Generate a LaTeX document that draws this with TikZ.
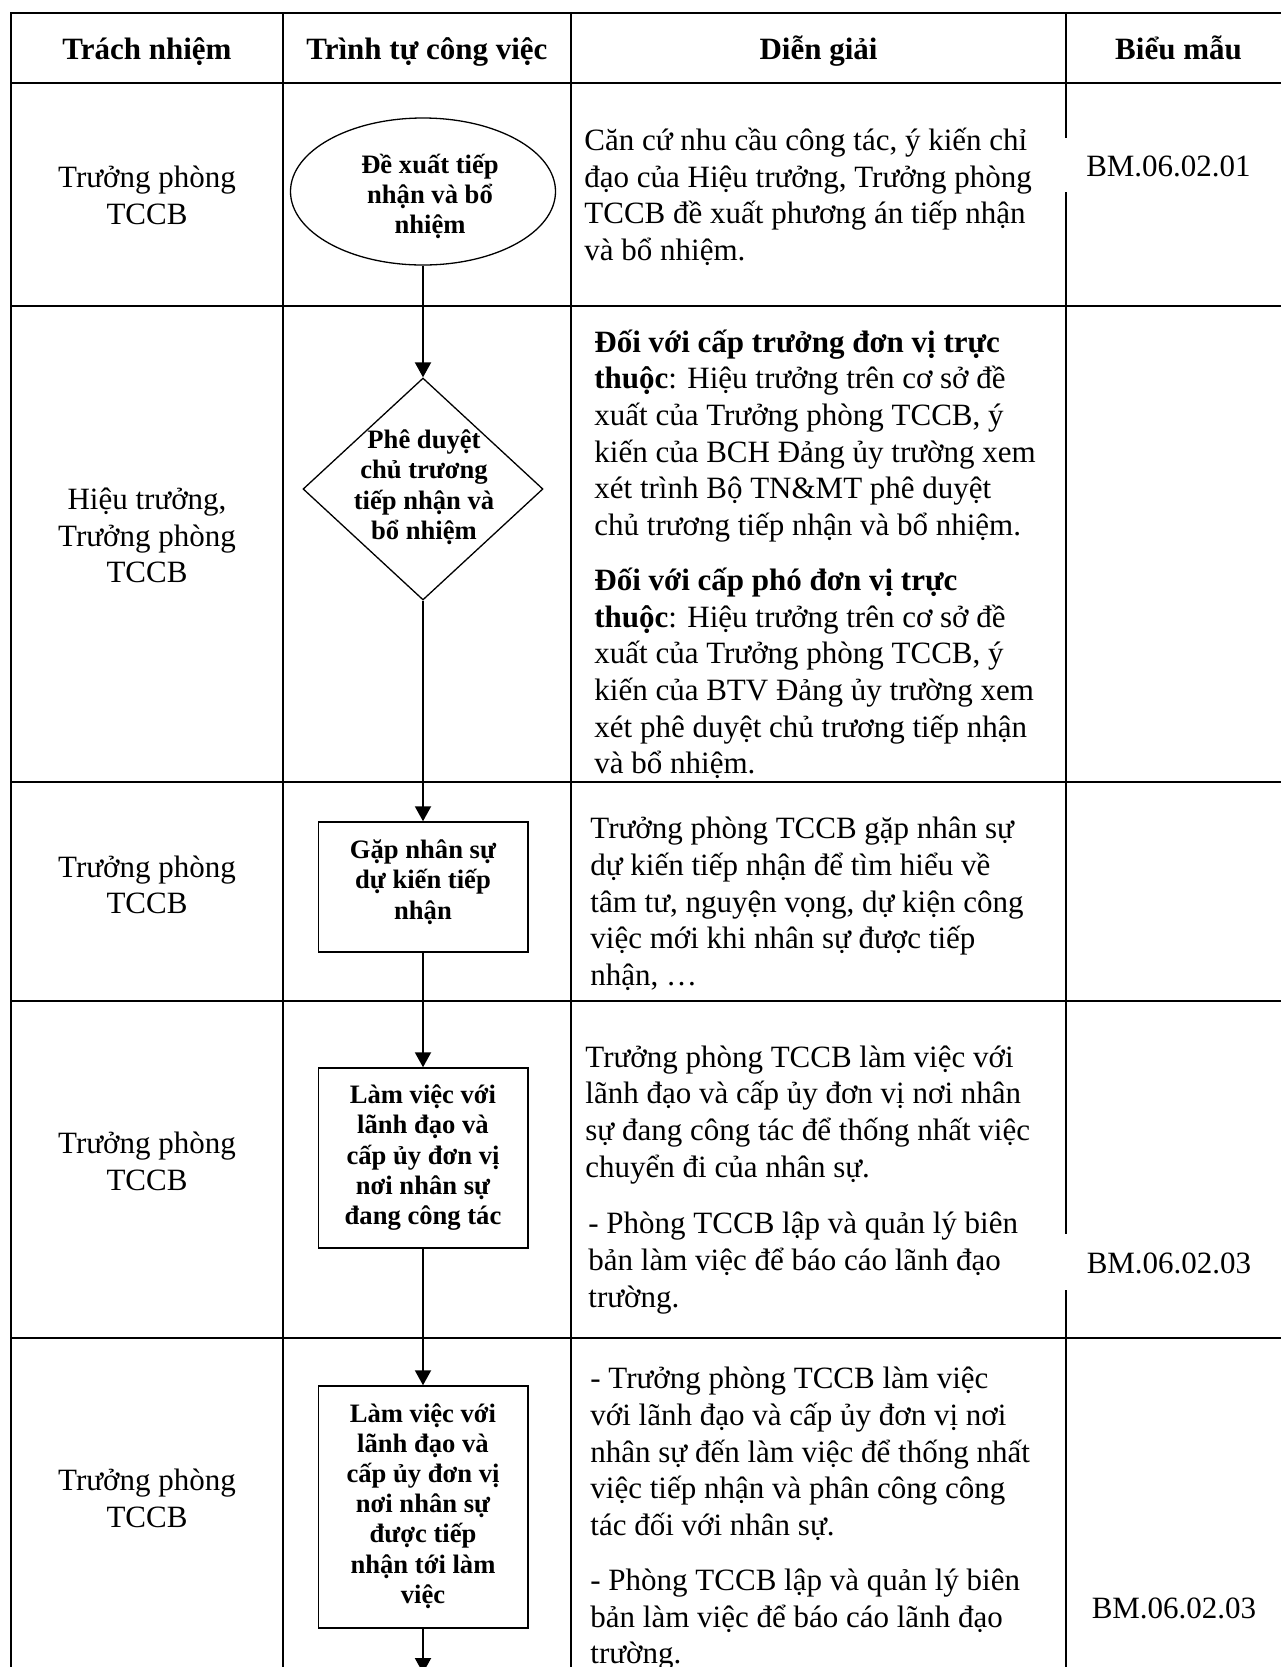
\documentclass[tikz,border=0pt]{standalone}
\usepackage{fontspec}
\setmainfont{Liberation Serif}
\usetikzlibrary{shapes.geometric,arrows.meta}

% text sizes: body 15.5pt, flow-chart labels 13.3pt bold
\newcommand\bodyfont{\fontsize{15.5pt}{18.35pt}\selectfont\lineskiplimit=-30pt}
\newcommand\flowfont{\fontsize{13.3pt}{15.1pt}\selectfont\bfseries\lineskiplimit=-30pt}
% fixed-height strut so that the top of every text block sits 16pt above its first baseline
\newcommand\tallstrut{\rule{0pt}{16pt}}

\begin{document}
\begin{tikzpicture}[x=0.5pt,y=-0.5pt,
  rule/.style={line width=1pt,line cap=rect},
  flow/.style={line width=1pt,-{Triangle[length=7.5pt,width=8pt]}},
  head/.style={font=\bodyfont\bfseries,inner sep=0pt,anchor=base},
  who/.style={font=\bodyfont,inner sep=0pt,align=center,anchor=north},
  note/.style={font=\bodyfont,inner sep=0pt,align=left,anchor=north west},
  form/.style={font=\bodyfont,inner sep=0pt,anchor=base},
  flowtext/.style={font=\flowfont,inner sep=0pt,align=center,anchor=north},
  startnode/.style={draw,ellipse,line width=0.65pt,inner sep=0pt,minimum width=132.5pt,minimum height=73.5pt},
  decision/.style={draw,diamond,line width=0.65pt,inner sep=0pt,minimum width=120pt,minimum height=111pt},
  process/.style={draw,rectangle,line width=0.75pt,inner sep=0pt,minimum width=104.75pt}]

\useasboundingbox (0,0) rectangle (1281,1667);
\clip (0,0) rectangle (1281,1667);

% ---- table rules ----
\foreach \y in {12.7,83,306,781.7,1000.7,1338}
  \draw[rule] (11,\y) -- (1300,\y);
\draw[rule] (11,12.7) -- (11,1700);
\draw[rule] (283.3,12.7) -- (283.3,1700);
\draw[rule] (570.7,12.7) -- (570.7,1700);
\draw[rule] (1065.7,12.7) -- (1065.7,136.7)
            (1065.7,193.3) -- (1065.7,1233)
            (1065.7,1291) -- (1065.7,1700);

% ---- header ----
\node[head] (h1) at (147,59) {Trách nhiệm};
\node[head] (h2) at (427,59) {Trình tự công việc};
\node[head] (h3) at (818.5,59) {Diễn giải};
\node[head] (h4) at (1178.5,59) {Biểu mẫu};

% ---- responsibility column ----
\node[who] (r1) at (147,155) {\tallstrut Trưởng phòng\\TCCB};
\node[who] (r2) at (147,477) {\tallstrut Hiệu trưởng,\\Trưởng phòng\\TCCB};
\node[who] (r3) at (147,844.7) {\tallstrut Trưởng phòng\\TCCB};
\node[who] (r4) at (147,1121.3) {\tallstrut Trưởng phòng\\TCCB};
\node[who] (r5) at (147,1458) {\tallstrut Trưởng phòng\\TCCB};

% ---- flow chart ----
\node[startnode] (e1) at (423,191.5) {};
\node[decision] (d1) at (423,489) {};
\node[process,minimum height=65pt] (b1) at (423,887) {};
\node[process,minimum height=90pt] (b2) at (423,1158) {};
\node[process,minimum height=121pt] (b3) at (423,1507) {};
\coordinate (out) at (423,1673);

\node[flowtext] (e1t) at (430,140.7) {\tallstrut Đề xuất tiếp\\nhận và bổ\\nhiệm};
\node[flowtext] (d1t) at (424,416.3) {\tallstrut Phê duyệt\\chủ trương\\tiếp nhận và\\bổ nhiệm};
\node[flowtext] (b1t) at (423,826.3) {\tallstrut Gặp nhân sự\\dự kiến tiếp\\nhận};
\node[flowtext] (b2t) at (423,1071.3) {\tallstrut Làm việc với\\lãnh đạo và\\cấp ủy đơn vị\\nơi nhân sự\\đang công tác};
\node[flowtext] (b3t) at (423,1389.7) {\tallstrut Làm việc với\\lãnh đạo và\\cấp ủy đơn vị\\nơi nhân sự\\được tiếp\\nhận tới làm\\việc};

\draw[flow] (e1) -- (d1);
\draw[flow] (d1) -- (b1);
\draw[flow] (b1) -- (b2);
\draw[flow] (b2) -- (b3);
\draw[flow] (b3) -- (out);

% ---- explanation column ----
\node[note] (n1) at (584,118) {\tallstrut Căn cứ nhu cầu công tác, ý kiến chỉ\\đạo của Hiệu trưởng, Trưởng phòng\\TCCB đề xuất phương án tiếp nhận\\và bổ nhiệm.};
\node[note] (n2a) at (594,319.7) {\tallstrut\textbf{Đối với cấp trưởng đơn vị trực}\\\textbf{thuộc}: Hiệu trưởng trên cơ sở đề\\xuất của Trưởng phòng TCCB, ý\\kiến của BCH Đảng ủy trường xem\\xét trình Bộ TN\&MT phê duyệt\\chủ trương tiếp nhận và bổ nhiệm.};
\node[note] (n2b) at (594,558) {\tallstrut\textbf{Đối với cấp phó đơn vị trực}\\\textbf{thuộc}: Hiệu trưởng trên cơ sở đề\\xuất của Trưởng phòng TCCB, ý\\kiến của BTV Đảng ủy trường xem\\xét phê duyệt chủ trương tiếp nhận\\và bổ nhiệm.};
\node[note] (n3) at (590,806.3) {\tallstrut Trưởng phòng TCCB gặp nhân sự\\dự kiến tiếp nhận để tìm hiểu về\\tâm tư, nguyện vọng, dự kiện công\\việc mới khi nhân sự được tiếp\\nhận, …};
\node[note] (n4a) at (585,1034.7) {\tallstrut Trưởng phòng TCCB làm việc với\\lãnh đạo và cấp ủy đơn vị nơi nhân\\sự đang công tác để thống nhất việc\\chuyển đi của nhân sự.};
\node[note] (n4b) at (588,1201.3) {\tallstrut - Phòng TCCB lập và quản lý biên\\bản làm việc để báo cáo lãnh đạo\\trường.};
\node[note] (n5a) at (590,1356.3) {\tallstrut - Trưởng phòng TCCB làm việc\\với lãnh đạo và cấp ủy đơn vị nơi\\nhân sự đến làm việc để thống nhất\\việc tiếp nhận và phân công công\\tác đối với nhân sự.};
\node[note] (n5b) at (590,1558) {\tallstrut - Phòng TCCB lập và quản lý biên\\bản làm việc để báo cáo lãnh đạo\\trường.};

% ---- form column ----
\node[form] (f1) at (1168.5,176) {BM.06.02.01};
\node[form] (f4) at (1169,1273.3) {BM.06.02.03};
\node[form] (f5) at (1174,1618.3) {BM.06.02.03};

\end{tikzpicture}
\end{document}
